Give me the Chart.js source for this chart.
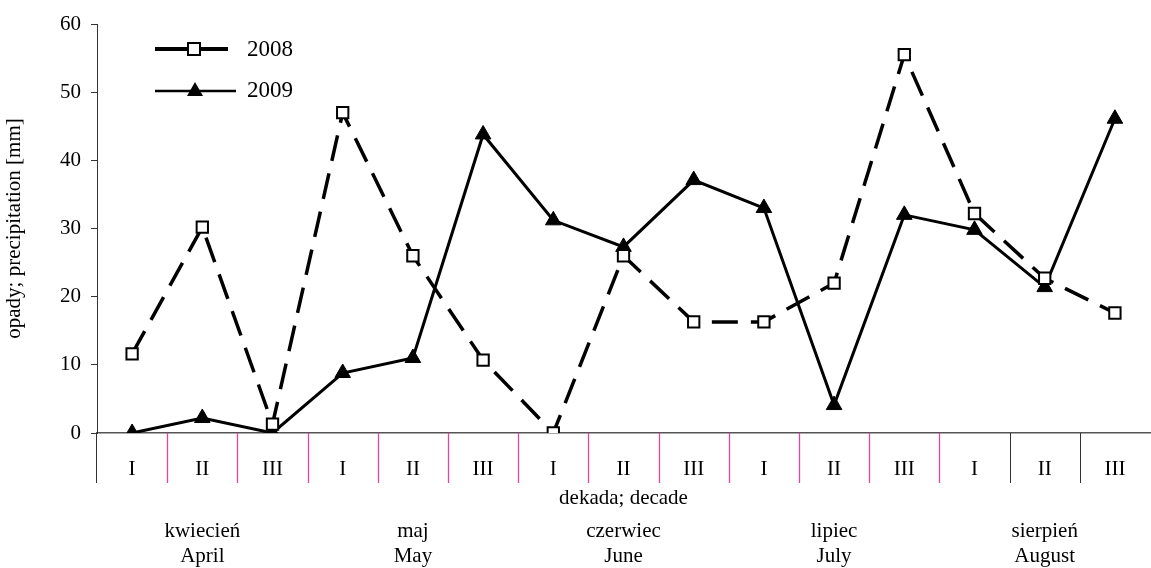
<!DOCTYPE html>
<html><head><meta charset="utf-8">
<script src="https://cdn.jsdelivr.net/npm/chart.js@4/dist/chart.umd.min.js"></script>
<style>
html,body{margin:0;padding:0;background:#fff;overflow:hidden;}
#wrap{position:relative;width:1160px;height:568px;}
</style></head><body>
<div id="wrap"><canvas id="c" width="1160" height="568"></canvas></div>
<script>
const decades = ['I','II','III','I','II','III','I','II','III','I','II','III','I','II','III'];
const monthsPL = ['kwiecień','maj','czerwiec','lipiec','sierpień'];
const monthsEN = ['April','May','June','July','August'];
const seriesNames = ['2008','2009'];
const precip2008 = [11.6,30.2,1.3,47.0,26.0,10.7,0,26.0,16.3,16.3,22.0,55.5,32.2,22.7,17.6];
const precip2009 = [0,2.2,0,8.8,11.0,43.8,31.2,27.3,37.1,33.0,4.1,32.0,29.8,21.4,46.1];
const yMin = 0, yMax = 60, yStep = 10;
const xTitle = 'dekada; decade';
const yTitle = 'opady; precipitation [mm]';

const FONT = '"Liberation Serif", "Times New Roman", serif';
const PINK = '#e8449f';
const DARK = '#333333';

const decor = {
  id: 'decor',
  afterDraw(chart) {
    const ctx = chart.ctx;
    const xs = chart.scales.x;
    const ca = chart.chartArea;
    const half = (xs.getPixelForValue(1) - xs.getPixelForValue(0)) / 2;
    const y0 = ca.bottom, y1 = ca.bottom + 50;
    ctx.save();
    ctx.strokeStyle = DARK; ctx.lineWidth = 1;
    ctx.beginPath(); ctx.moveTo(Math.round(ca.left) - 0.5, y0); ctx.lineTo(Math.round(ca.left) - 0.5, y1); ctx.stroke();
    for (let k = 1; k < decades.length; k++) {
      const x = Math.round(xs.getPixelForValue(k) - half) + 0.5;
      ctx.strokeStyle = k <= 12 ? PINK : DARK;
      ctx.lineWidth = k <= 12 ? 1.3 : 1;
      ctx.beginPath(); ctx.moveTo(x, y0); ctx.lineTo(x, y1); ctx.stroke();
    }
    ctx.fillStyle = '#000';
    ctx.font = '21px ' + FONT;
    ctx.textAlign = 'center'; ctx.textBaseline = 'middle';
    ctx.fillText(xTitle, xs.getPixelForValue(7), 498);
    for (let m = 0; m < monthsPL.length; m++) {
      const x = xs.getPixelForValue(3 * m + 1);
      ctx.fillText(monthsPL[m], x, 531);
      ctx.fillText(monthsEN[m], x, 556);
    }
    const lx0 = 155;
    ctx.strokeStyle = '#000'; ctx.lineWidth = 4; ctx.setLineDash([]);
    ctx.beginPath(); ctx.moveTo(lx0, 49); ctx.lineTo(188, 49); ctx.moveTo(200, 49); ctx.lineTo(228, 49); ctx.stroke();
    ctx.fillStyle = '#fff'; ctx.lineWidth = 2;
    ctx.fillRect(188, 43, 12, 12); ctx.strokeRect(188, 43, 12, 12);
    ctx.lineWidth = 2.5;
    ctx.beginPath(); ctx.moveTo(lx0, 91); ctx.lineTo(236, 91); ctx.stroke();
    ctx.fillStyle = '#000';
    ctx.beginPath(); ctx.moveTo(195, 82); ctx.lineTo(203, 96); ctx.lineTo(187, 96); ctx.closePath(); ctx.fill();
    ctx.font = '23px ' + FONT; ctx.textAlign = 'left';
    ctx.fillText(seriesNames[0], 247, 50);
    ctx.fillText(seriesNames[1], 247, 91);
    ctx.restore();
  }
};

new Chart(document.getElementById('c'), {
  type: 'line',
  data: {
    labels: decades,
    datasets: [
      {
        label: seriesNames[0], data: precip2008,
        borderColor: '#000', borderWidth: 3.5, borderDash: [26, 13],
        pointStyle: 'rect', pointRadius: 8, pointBorderWidth: 2,
        pointBackgroundColor: '#fff', pointBorderColor: '#000',
        tension: 0, fill: false
      },
      {
        label: seriesNames[1], data: precip2009,
        borderColor: '#000', borderWidth: 3,
        pointStyle: 'triangle', pointRadius: 9, pointBorderWidth: 1,
        pointBackgroundColor: '#000', pointBorderColor: '#000',
        tension: 0, fill: false
      }
    ]
  },
  options: {
    responsive: false, animation: false, devicePixelRatio: 1,
    layout: { padding: { top: 24, right: 1, bottom: 0, left: 0 } },
    plugins: { legend: { display: false }, tooltip: { enabled: false } },
    scales: {
      x: {
        type: 'category', offset: true,
        grid: { display: false },
        border: { display: true, color: '#555', width: 1.5 },
        ticks: { color: '#000', font: { family: FONT, size: 21 }, padding: 16, maxRotation: 0, autoSkip: false },
        afterFit: (s) => { s.height = 135; }
      },
      y: {
        min: yMin, max: yMax,
        ticks: { stepSize: yStep, color: '#000', font: { family: FONT, size: 21 }, padding: 10 },
        grid: { drawOnChartArea: false, drawTicks: true, tickLength: 6, color: DARK },
        border: { display: true, color: DARK, width: 1 },
        title: { display: true, text: yTitle, color: '#000', font: { family: FONT, size: 21 }, padding: { top: 2, bottom: 0 } },
        afterFit: (s) => { s.width = 97; }
      }
    }
  },
  plugins: [decor]
});
</script>
</body></html>
